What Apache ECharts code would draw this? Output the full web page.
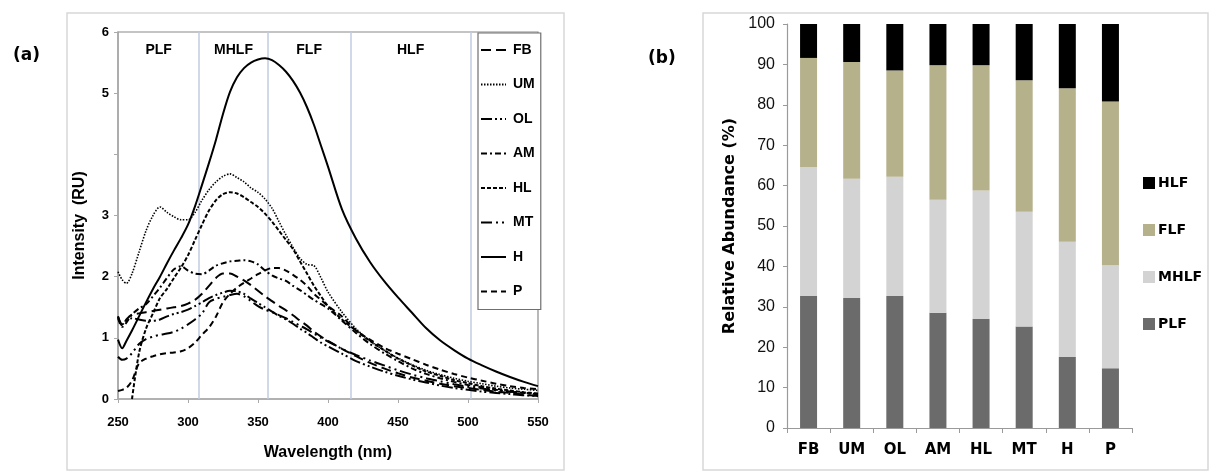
<!DOCTYPE html>
<html>
<head>
<meta charset="utf-8">
<script src="https://cdn.jsdelivr.net/npm/echarts@6/dist/echarts.min.js"></script>
<style>html,body{margin:0;padding:0;background:#fff}#c{width:1214px;height:475px}</style>
</head>
<body>
<div id="c"></div>
<script>
// ---------- Panel (a) data ----------
const wavelengths = [250,253,256,260,265,270,275,280,285,290,295,300,305,310,315,320,325,330,335,340,345,350,355,360,365,370,375,380,385,390,395,400,410,420,430,440,450,460,470,480,490,500,510,520,530,540,550];
const FB = [1.35,1.2,1.3,1.38,1.4,1.42,1.44,1.46,1.48,1.5,1.52,1.56,1.62,1.72,1.85,1.98,2.05,2.05,2.0,1.94,1.86,1.77,1.68,1.6,1.52,1.45,1.37,1.28,1.2,1.1,1.02,0.95,0.82,0.7,0.59,0.5,0.42,0.35,0.3,0.25,0.21,0.18,0.15,0.12,0.1,0.07,0.05];
const UM = [2.08,1.95,1.89,2.05,2.4,2.75,3.0,3.14,3.05,2.98,2.93,2.93,3.05,3.25,3.42,3.55,3.64,3.68,3.62,3.55,3.45,3.38,3.27,3.12,2.9,2.68,2.48,2.3,2.2,2.18,1.98,1.75,1.42,1.15,0.95,0.8,0.67,0.56,0.47,0.4,0.34,0.29,0.25,0.21,0.18,0.16,0.14];
const OL = [1.35,1.22,1.28,1.32,1.3,1.28,1.28,1.3,1.35,1.39,1.42,1.46,1.52,1.58,1.65,1.7,1.74,1.77,1.76,1.72,1.64,1.57,1.5,1.43,1.36,1.3,1.23,1.15,1.08,1.0,0.92,0.86,0.74,0.62,0.53,0.45,0.38,0.32,0.27,0.22,0.18,0.15,0.12,0.1,0.08,0.06,0.05];
const AM = [1.32,1.18,1.25,1.38,1.48,1.55,1.68,1.82,1.98,2.12,2.17,2.1,2.05,2.04,2.1,2.18,2.22,2.25,2.26,2.27,2.25,2.2,2.1,2.02,1.97,1.93,1.85,1.78,1.7,1.62,1.55,1.48,1.28,1.08,0.9,0.75,0.62,0.5,0.41,0.34,0.28,0.23,0.19,0.15,0.12,0.1,0.08];
const HL = [null,null,null,0.0,0.75,1.15,1.4,1.65,1.8,1.98,2.15,2.35,2.6,2.85,3.08,3.25,3.35,3.38,3.36,3.3,3.22,3.14,3.03,2.9,2.75,2.6,2.45,2.25,2.05,1.85,1.68,1.52,1.3,1.12,0.95,0.8,0.66,0.55,0.45,0.38,0.31,0.26,0.21,0.17,0.14,0.11,0.09];
const MT = [0.69,0.64,0.66,0.75,0.9,0.98,1.02,1.05,1.07,1.1,1.15,1.22,1.3,1.4,1.58,1.64,1.67,1.7,1.72,1.68,1.6,1.52,1.46,1.42,1.37,1.32,1.26,1.2,1.14,1.07,1.0,0.94,0.82,0.72,0.63,0.55,0.47,0.4,0.34,0.29,0.24,0.2,0.17,0.14,0.12,0.1,0.08];
const H  = [0.97,0.83,0.95,1.12,1.35,1.58,1.8,2.0,2.22,2.43,2.63,2.85,3.15,3.5,3.86,4.24,4.66,5.02,5.26,5.41,5.5,5.55,5.57,5.54,5.46,5.35,5.2,5.01,4.77,4.48,4.14,3.8,3.1,2.62,2.24,1.93,1.66,1.41,1.16,0.96,0.8,0.66,0.55,0.45,0.36,0.28,0.21];
const P  = [0.13,0.15,0.18,0.3,0.58,0.66,0.7,0.73,0.75,0.76,0.78,0.83,0.92,1.05,1.17,1.35,1.58,1.72,1.82,1.9,1.97,2.04,2.1,2.14,2.14,2.1,2.03,1.95,1.85,1.72,1.62,1.52,1.35,1.12,0.97,0.84,0.74,0.65,0.56,0.48,0.41,0.35,0.3,0.25,0.21,0.18,0.16];
const lineNames = ['FB','UM','OL','AM','HL','MT','H','P'];
const lineValues = [FB, UM, OL, AM, HL, MT, H, P];
const regionBounds = [250, 308, 357, 416, 502];
const regionNames = ['PLF','MHLF','FLF','HLF'];
const yTicksA = [0,1,2,3,4,5,6];

// ---------- Panel (b) data ----------
const samples = ['FB','UM','OL','AM','HL','MT','H','P'];
const PLF  = [32.7,32.2,32.7,28.5,27.0,25.1,17.6,14.8];
const MHLF = [31.9,29.5,29.5,28.0,31.8,28.4,28.5,25.5];
const FLF  = [27.0,28.9,26.3,33.3,31.0,32.6,38.0,40.5];
const HLFv = [8.4,9.4,11.5,10.2,10.2,13.9,15.9,19.2];
const fractionNames = ['PLF','MHLF','FLF','HLF'];
const fractionValues = [PLF, MHLF, FLF, HLFv];

// ---------- styles ----------
const dashes = {
  FB: [10,5], UM: [1.5,1.5], OL: [11,3,2,3,2,3], AM: [6,3,2,3],
  HL: [4,2], MT: [11,4,2,4,2,4], H: 'solid', P: [6,4]
};
const widths = {FB:2, UM:1.6, OL:2, AM:2, HL:2, MT:2, H:2, P:2};
const fracColors = {PLF:'#6b6b6b', MHLF:'#d3d3d3', FLF:'#b5b18b', HLF:'#000000'};
const narrow = "'Liberation Sans Narrow','Arial Narrow','Liberation Sans',Arial,sans-serif";
const wide = "'DejaVu Sans',Verdana,sans-serif";
const plain = "'Liberation Sans',Arial,sans-serif";

const lineSeries = lineNames.map((n, k) => ({
  name: n, type: 'line', xAxisIndex: 0, yAxisIndex: 0,
  symbol: 'none', smooth: 0.3, connectNulls: false,
  lineStyle: {color: '#000', width: widths[n], type: dashes[n]},
  itemStyle: {color: '#000'},
  data: wavelengths.map((w, i) => [w, lineValues[k][i]]),
  z: 5
}));
// Region dividers & labels
lineSeries.push({
  name: 'regions', type: 'line', xAxisIndex: 0, yAxisIndex: 0, data: [], silent: true,
  markLine: {
    silent: true, symbol: 'none', label: {show: false},
    lineStyle: {color: '#c2cce0', width: 1.5, type: 'solid'},
    data: regionBounds.slice(1).map(b => ({xAxis: b}))
  },
  markArea: {
    silent: true, itemStyle: {color: 'rgba(0,0,0,0)'},
    label: {show: true, position: 'insideTop', distance: 11, color: '#000', fontWeight: 'bold', fontSize: 14, fontFamily: narrow},
    data: regionNames.map((r, i) => [{name: r, xAxis: regionBounds[i]}, {xAxis: regionBounds[i+1]}])
  }
});

const barSeries = fractionNames.map((n, k) => ({
  name: n, type: 'bar', stack: 'tot', xAxisIndex: 1, yAxisIndex: 1,
  barWidth: 17, itemStyle: {color: fracColors[n]},
  data: fractionValues[k]
}));

const option = {
  animation: false,
  backgroundColor: '#fff',
  graphic: [
    {type: 'rect', shape: {x: 67, y: 13, width: 497, height: 457}, style: {fill: 'none', stroke: '#d8d8d8', lineWidth: 1.5}, silent: true, z: -10},
    {type: 'rect', shape: {x: 703, y: 13, width: 505, height: 457}, style: {fill: 'none', stroke: '#d8d8d8', lineWidth: 1.5}, silent: true, z: -10},
    {type: 'text', left: 13, top: 47, style: {text: '(a)', font: "bold 17px 'DejaVu Sans',sans-serif", fill: '#000'}},
    {type: 'text', left: 648, top: 50, style: {text: '(b)', font: "bold 17px 'DejaVu Sans',sans-serif", fill: '#000'}}
  ],
  grid: [
    {left: 118, top: 32, width: 420, height: 367, show: true, borderColor: '#8a8a8a', borderWidth: 1.2, containLabel: false},
    {left: 787, top: 24, width: 345, height: 404, containLabel: false}
  ],
  legend: [
    {
      data: lineNames, orient: 'vertical', left: 478, top: 33,
      itemWidth: 25, itemHeight: 14, itemGap: 20.5,
      padding: [10, 6, 11, 2],
      borderColor: '#6f6f6f', borderWidth: 1.2, backgroundColor: '#fff',
      itemStyle: {opacity: 0},
      textStyle: {fontFamily: narrow, fontWeight: 'bold', fontSize: 14, color: '#000', padding: [0,0,0,2]},
      selectedMode: false
    },
    {
      data: ['HLF','FLF','MHLF','PLF'], orient: 'vertical', left: 1138, top: 171,
      itemWidth: 12, itemHeight: 12, itemGap: 33, icon: 'rect',
      textStyle: {fontFamily: wide, fontWeight: 'bold', fontSize: 14, color: '#000', padding: [0,0,0,-2]},
      selectedMode: false
    }
  ],
  xAxis: [
    {
      gridIndex: 0, type: 'value', min: 250, max: 550, interval: 50,
      name: 'Wavelength (nm)', nameLocation: 'middle', nameGap: 46,
      nameTextStyle: {fontFamily: narrow, fontWeight: 'bold', fontSize: 16, color: '#000'},
      axisLine: {lineStyle: {color: '#aaaaaa', width: 1.5}},
      axisTick: {show: true, length: 4, lineStyle: {color: '#aaaaaa'}},
      axisLabel: {fontFamily: narrow, fontWeight: 'bold', fontSize: 13, color: '#000', margin: 17},
      splitLine: {show: false}
    },
    {
      gridIndex: 1, type: 'category', data: samples,
      axisLine: {lineStyle: {color: '#9a9a9a', width: 1.2}},
      axisTick: {show: true, length: 5, lineStyle: {color: '#9a9a9a'}},
      axisLabel: {fontFamily: wide, fontWeight: 'bold', fontSize: 15, color: '#000', margin: 15}
    }
  ],
  yAxis: [
    {
      gridIndex: 0, type: 'value', min: 0, max: 6, interval: 1,
      name: 'Intensity  (RU)', nameLocation: 'middle', nameGap: 30,
      nameTextStyle: {fontFamily: narrow, fontWeight: 'bold', fontSize: 16, color: '#000', padding: [0, 0, 0, -20]},
      axisLine: {show: true, lineStyle: {color: '#aaaaaa', width: 1.5}},
      axisTick: {show: true, length: 4, lineStyle: {color: '#aaaaaa'}},
      axisLabel: {fontFamily: narrow, fontWeight: 'bold', fontSize: 13, color: '#000', margin: 9,
        formatter: v => (v === yTicksA[4] ? '' : String(v))},
      splitLine: {show: false}
    },
    {
      gridIndex: 1, type: 'value', min: 0, max: 100, interval: 10,
      name: 'Relative Abundance (%)', nameLocation: 'middle', nameGap: 49,
      nameTextStyle: {fontFamily: wide, fontWeight: 'bold', fontSize: 16, color: '#000'},
      axisLine: {show: true, lineStyle: {color: '#9a9a9a', width: 1.2}},
      axisTick: {show: true, length: 4, lineStyle: {color: '#9a9a9a'}},
      axisLabel: {fontFamily: plain, fontSize: 16, color: '#111', margin: 12},
      splitLine: {show: false}
    }
  ],
  series: lineSeries.concat(barSeries)
};

const chart = echarts.init(document.getElementById('c'), null, {renderer: 'canvas'});
chart.setOption(option);
</script>
</body>
</html>
